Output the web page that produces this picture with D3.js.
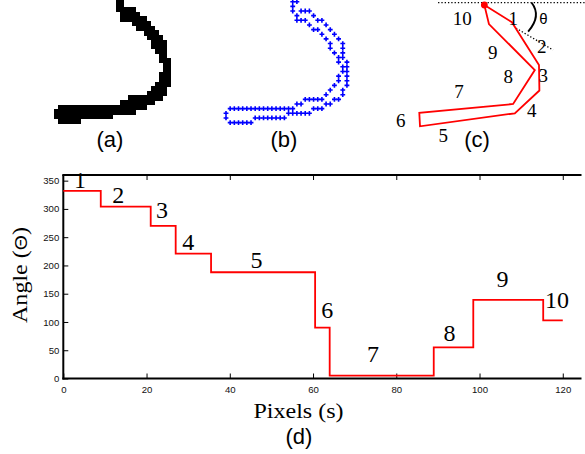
<!DOCTYPE html>
<html><head><meta charset="utf-8">
<script src="https://cdn.jsdelivr.net/npm/d3@7"></script>
<style>body{margin:0;background:#fff}svg{display:block}</style>
</head><body>
<script>
// ---------- (d) step chart data ----------
const segStart = [0, 9, 21, 27, 35.5, 60.5, 64, 89, 98.5, 115.3];
const segEnd = 120;
const angles = [332, 304, 270, 221, 188, 90, 5, 55, 139, 103];
const segLabels = ["1","2","3","4","5","6","7","8","9","10"];
const labelX = [4.0, 13.2, 23.7, 30.0, 46.4, 63.4, 74.4, 92.8, 105.5, 118.6];
const labelY = [336.6, 310, 284.5, 227.4, 195, 106.5, 29.7, 66.9, 162.4, 125.3];
const xTicks = [0, 20, 40, 60, 80, 100, 120];
const yTicks = [0, 50, 100, 150, 200, 250, 300, 350];

// ---------- (a) filled pixel spans per row [firstCol, lastCol] ----------
const fillSpans = [[16,17],[16,17],[16,20],[17,21],[17,23],[20,24],[21,25],[23,26],[24,27],[25,28],[25,28],[26,28],[27,28],[27,29],[28,29],[28,29],[27,29],[27,29],[26,29],[25,28],[24,28],[19,27],[17,25],[1,23],[0,20],[0,14],[1,6]];

// ---------- (b) contour pixel columns per row ----------
const contourCols = [
 [16,17],[16],[16,18,19,20],[17,21],[17,18,19,22,23],[20,24],[21,22,25],[23,26],[24,27],
 [25,28],[25,28],[26,28],[27,28],[27,29],[28,29],[28,29],[27,29],[27,29],[26,29],[25,28],[24,28],
 [19,20,21,22,23,26,27],[17,18,24,25],
 [1,2,3,4,5,6,7,8,9,10,11,12,13,14,15,16,21,22,23],
 [0,15,16,17,18,19,20],[0,7,8,9,10,11,12,13,14],[1,2,3,4,5,6]
];

// ---------- (c) polygon approximation (grid units) ----------
const polyU = [15.6, 22.2, 28.7, 28.8, 22.9, 0.17, 0, 22.5, 27.7, 16.7];
const polyV = [0.71, 4.4, 13.6, 19.1, 24.0, 26.8, 23.9, 22.0, 14.7, 4.8];
const cLabels = ["10","1","2","9","3","8","7","4","6","5"];
const cLabU = [10.31, 22.54, 29.35, 17.6, 29.74, 21.34, 9.52, 26.95, -4.46, 5.76];
const cLabV = [5.01, 5.01, 11.1, 12.39, 17.2, 17.42, 20.65, 24.86, 26.88, 30.1];

const W = 585, H = 454;
const serif = "'Liberation Serif','Times New Roman',serif";
const sans = "'Liberation Sans',Arial,sans-serif";
const svg = d3.select("body").append("svg").attr("width", W).attr("height", H);

// ----- panel (a) -----
const ax = d3.scaleLinear().domain([0, 1]).range([54.3, 58.18]);
const ay = d3.scaleLinear().domain([0, 1]).range([-2.2, 2.45]);
svg.append("g").attr("shape-rendering", "crispEdges").selectAll("rect").data(fillSpans).join("rect")
  .attr("x", d => ax(d[0]))
  .attr("y", (d, i) => ay(i))
  .attr("width", d => ax(d[1] + 1) - ax(d[0]))
  .attr("height", ay(1) - ay(0) + 0.5)
  .attr("fill", "#000");

// ----- panel (b) -----
const bx = d3.scaleLinear().domain([0, 1]).range([226, 230.17]);
const by = d3.scaleLinear().domain([0, 1]).range([1.7, 6.35]);
const pts = contourCols.flatMap((cols, r) => cols.map(c => [c, r]));
svg.append("g").selectAll("path").data(pts).join("path")
  .attr("transform", d => `translate(${bx(d[0])},${by(d[1])})`)
  .attr("d", d3.symbol(d3.symbolCross, 13))
  .attr("fill", "#0000ff");

// ----- panel (c) -----
const cx = d3.scaleLinear().domain([0, 1]).range([419.3, 423.47]);
const cy = d3.scaleLinear().domain([0, 1]).range([1.7, 6.35]);
const gc = svg.append("g");
const lineC = d3.line().x(d => cx(d[0])).y(d => cy(d[1]));
gc.append("path").attr("d", lineC([[4.5, 0.2], [39.7, 0.2]]))
  .attr("stroke", "#000").attr("stroke-width", 1.3).attr("stroke-dasharray", "1.3,2").attr("fill", "none");
gc.append("path").attr("d", lineC([[23.2, 5.7], [32.1, 10.4]]))
  .attr("stroke", "#000").attr("stroke-width", 1.3).attr("stroke-dasharray", "1.3,2").attr("fill", "none");
gc.append("path")
  .attr("d", `M${cx(26.9)},${cy(0.17)} Q${cx(29.4)},${cy(3.08)} ${cx(26.1)},${cy(6.41)}`)
  .attr("stroke", "#000").attr("stroke-width", 1.9).attr("fill", "none");
gc.append("path").attr("d", lineC(polyU.map((u, i) => [u, polyV[i]])) + "Z")
  .attr("fill", "none").attr("stroke", "#ff0000").attr("stroke-width", 1.8).attr("stroke-linejoin", "miter");
gc.append("circle").attr("cx", cx(polyU[0])).attr("cy", cy(polyV[0])).attr("r", 3.4).attr("fill", "#ff0000");
gc.selectAll("text.cl").data(cLabels).join("text").attr("class", "cl")
  .attr("x", (d, i) => cx(cLabU[i])).attr("y", (d, i) => cy(cLabV[i]))
  .attr("text-anchor", "middle").attr("font-family", serif).attr("font-size", 19).attr("fill", "#000")
  .text(d => d);
gc.append("text").attr("x", cx(29.74)).attr("y", cy(4.8)).attr("text-anchor", "middle")
  .attr("font-family", sans).attr("font-size", 15).text("θ");

// captions
const caps = [["(a)", 110, 147], ["(b)", 284, 147], ["(c)", 477, 147], ["(d)", 299, 444]];
svg.selectAll("text.cap").data(caps).join("text").attr("class", "cap")
  .attr("x", d => d[1]).attr("y", d => d[2]).attr("text-anchor", "middle")
  .attr("font-family", sans).attr("font-size", 22).text(d => d[0]);

// ----- panel (d) -----
const x = d3.scaleLinear().domain([0, 124.5]).range([63.3, 581.5]);
const y = d3.scaleLinear().domain([0, 360]).range([378.5, 175]);

const gy = svg.append("g").attr("transform", `translate(${x(0)},0)`)
  .call(d3.axisLeft(y).tickValues(yTicks).tickSizeInner(-5).tickSizeOuter(0).tickPadding(4));
const gx = svg.append("g").attr("transform", `translate(0,${y(0)})`)
  .call(d3.axisBottom(x).tickValues(xTicks).tickSizeInner(-5).tickSizeOuter(0).tickPadding(7.5));
const gt = svg.append("g").attr("transform", `translate(0,${y(360)})`)
  .call(d3.axisTop(x).tickValues(xTicks.slice(1)).tickSizeInner(-5).tickSizeOuter(0).tickFormat(""));
[gy, gx, gt].forEach(g => {
  g.select(".domain").remove();
  g.selectAll("line").attr("stroke", "#000").attr("stroke-width", 1);
  g.selectAll("text").attr("font-family", sans).attr("font-size", 9.6).attr("fill", "#111");
});
const frame = svg.append("g").attr("stroke", "#000").attr("stroke-width", 2).attr("fill", "none");
frame.append("line").attr("x1", x(0)).attr("x2", x(0)).attr("y1", y(360)).attr("y2", y(0) + 1);
frame.append("line").attr("x1", x(0) - 1).attr("x2", x(124.5)).attr("y1", y(360)).attr("y2", y(360));
frame.append("line").attr("x1", x(0) - 1).attr("x2", x(124.5)).attr("y1", y(0)).attr("y2", y(0));

const stepPts = segStart.map((s, i) => [s, angles[i]]).concat([[segEnd, angles[angles.length - 1]]]);
svg.append("path").attr("d", d3.line().x(d => x(d[0])).y(d => y(d[1])).curve(d3.curveStepAfter)(stepPts))
  .attr("fill", "none").attr("stroke", "#ff0000").attr("stroke-width", 1.8);

svg.selectAll("text.sl").data(segLabels).join("text").attr("class", "sl")
  .attr("x", (d, i) => x(labelX[i])).attr("y", (d, i) => y(labelY[i]))
  .attr("text-anchor", "middle").attr("font-family", serif).attr("font-size", 24).text(d => d);

svg.append("text").attr("x", 298.5).attr("y", 418).attr("text-anchor", "middle")
  .attr("font-family", serif).attr("font-size", 22).attr("textLength", 90).attr("lengthAdjust", "spacingAndGlyphs")
  .text("Pixels (s)");
const yl = svg.append("text").attr("transform", "translate(27,275) rotate(-90)").attr("text-anchor", "middle")
  .attr("font-family", serif).attr("font-size", 21).attr("textLength", 96).attr("lengthAdjust", "spacingAndGlyphs");
yl.append("tspan").text("Angle (");
yl.append("tspan").attr("font-family", sans).attr("font-size", 17).text("Θ");
yl.append("tspan").text(")");
</script>
</body></html>
